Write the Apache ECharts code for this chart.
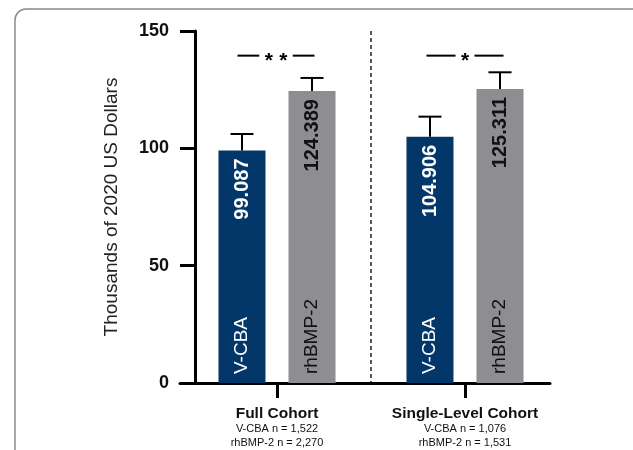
<!DOCTYPE html>
<html>
<head>
<meta charset="utf-8">
<script src="https://cdn.jsdelivr.net/npm/echarts@6/dist/echarts.min.js"></script>
<style>html,body{margin:0;padding:0;background:#fff;}#c{width:633px;height:450px;}</style>
</head>
<body>
<div id="c"></div>
<script>
// ---- data ----
const categories = ['Full Cohort', 'Single-Level Cohort'];
const subLines = [['V-CBA n = 1,522', 'rhBMP-2 n = 2,270'], ['V-CBA n = 1,076', 'rhBMP-2 n = 1,531']];
const seriesNames = ['V-CBA', 'rhBMP-2'];
const vcbaMeans = [99.087, 104.906];
const rhbmpMeans = [124.389, 125.311];
const vcbaUpper = [106.1, 113.5];
const rhbmpUpper = [130.0, 132.4];
const sigLevel = [139.5, 139.5];
const sigMarks = ['**', '*'];
const yTicks = [0, 50, 100, 150];

const FONT = 'Liberation Sans, Arial, sans-serif';
const BLUE = '#043769';
const GRAY = '#8e8e92';
const BAR_W = 47;
const BAR_OFF = 35;

const chart = echarts.init(document.getElementById('c'), null, {renderer: 'canvas'});

function errorSeries(name, means, upper, sign, textColor) {
  return {
    type: 'custom',
    name: name + ' err',
    xAxisIndex: 0, yAxisIndex: 0,
    z: 5,
    data: categories.map((c, i) => [c, means[i], upper[i]]),
    encode: {x: 0, y: [1, 2]},
    renderItem: function (params, api) {
      const cat = api.value(0);
      const top = api.coord([cat, api.value(1)]);
      const up = api.coord([cat, api.value(2)]);
      const base = api.coord([cat, 0]);
      const x = top[0] + sign * BAR_OFF;
      const ls = {stroke: '#000', lineWidth: 2};
      return {
        type: 'group',
        children: [
          {type: 'line', shape: {x1: x, y1: top[1], x2: x, y2: up[1]}, style: ls},
          {type: 'line', shape: {x1: x - 11.5, y1: up[1], x2: x + 11.5, y2: up[1]}, style: ls},
          {type: 'text', x: x, y: base[1] - 9, rotation: Math.PI / 2,
           style: {text: name, fill: textColor, font: 'normal 19px ' + FONT, align: 'left', verticalAlign: 'middle'}}
        ]
      };
    }
  };
}

const option = {
  animation: false,
  backgroundColor: '#fff',
  graphic: [{
    type: 'rect', shape: {x: 15, y: 9, width: 640, height: 460, r: 11},
    style: {fill: 'none', stroke: '#8a8a8a', lineWidth: 1.5}, z: -10
  }],
  grid: [
    {left: 183, right: 74, top: 31, bottom: 67, containLabel: false},
    {left: 180, right: 83, top: 31, bottom: 67, containLabel: false}
  ],
  xAxis: [{
    type: 'category', gridIndex: 0, data: categories,
    axisLine: {show: false},
    axisTick: {show: true, alignWithLabel: true, length: 15, lineStyle: {color: '#000', width: 3}},
    splitLine: {show: true, showMinLine: false, showMaxLine: false, lineStyle: {color: '#222', width: 1.5, type: [4, 3]}},
    axisLabel: {
      margin: 22,
      formatter: function (v, i) {
        return '{t|' + v + '}\n{s|' + subLines[i][0] + '}\n{s|' + subLines[i][1] + '}';
      },
      rich: {
        t: {fontFamily: FONT, fontWeight: 'bold', fontSize: 15.5, lineHeight: 17, color: '#111'},
        s: {fontFamily: FONT, fontSize: 11, lineHeight: 14, color: '#111'}
      }
    }
  }, {
    type: 'value', gridIndex: 1, min: 0, max: 1,
    axisLine: {show: true, onZero: false, lineStyle: {color: '#000', width: 3}},
    axisTick: {show: false}, axisLabel: {show: false}, splitLine: {show: false}
  }],
  yAxis: [{
    type: 'value', gridIndex: 0, min: 0, max: 150, interval: 50, offset: -12,
    name: 'Thousands of 2020 US Dollars', nameLocation: 'middle', nameGap: 74, nameRotate: 90,
    nameTextStyle: {fontFamily: FONT, fontSize: 19, color: '#222'},
    axisLine: {show: true, onZero: false, lineStyle: {color: '#000', width: 3}},
    axisTick: {show: true, length: 15, lineStyle: {color: '#000', width: 3}},
    axisLabel: {
      margin: 26, fontFamily: FONT, fontWeight: 'bold', fontSize: 18, color: '#111',
      customValues: yTicks
    },
    splitLine: {show: false}
  }, {
    type: 'value', gridIndex: 1, min: 0, max: 1, show: false
  }],
  series: [{
    type: 'bar', name: seriesNames[0], data: vcbaMeans, barWidth: BAR_W, barGap: '49%',
    itemStyle: {color: BLUE},
    label: {show: true, position: 'insideTop', rotate: 90, align: 'right', verticalAlign: 'middle', distance: 8,
      fontFamily: FONT, fontWeight: 'bold', fontSize: 20, color: '#fff',
      formatter: p => p.value.toFixed(3)}
  }, {
    type: 'bar', name: seriesNames[1], data: rhbmpMeans, barWidth: BAR_W,
    itemStyle: {color: GRAY},
    label: {show: true, position: 'insideTop', rotate: 90, align: 'right', verticalAlign: 'middle', distance: 8,
      fontFamily: FONT, fontWeight: 'bold', fontSize: 20, color: '#111',
      formatter: p => p.value.toFixed(3)}
  },
  errorSeries(seriesNames[0], vcbaMeans, vcbaUpper, -1, '#fff'),
  errorSeries(seriesNames[1], rhbmpMeans, rhbmpUpper, 1, '#111'),
  {
    type: 'custom', name: 'significance', xAxisIndex: 0, yAxisIndex: 0, z: 5,
    data: categories.map((c, i) => [c, sigLevel[i], sigMarks[i]]),
    encode: {x: 0, y: 1},
    renderItem: function (params, api) {
      const idx = params.dataIndex;
      const p = api.coord([api.value(0), api.value(1)]);
      const n = sigMarks[idx].length;
      const step = 14.5;
      const cx = p[0] - (n - 1);
      const inner = (n - 1) * step / 2 + 9.5;
      const outer = 38.5;
      const ls = {stroke: '#000', lineWidth: 2};
      const children = [
        {type: 'line', shape: {x1: cx - outer, y1: p[1], x2: cx - inner, y2: p[1]}, style: ls},
        {type: 'line', shape: {x1: cx + inner, y1: p[1], x2: cx + outer, y2: p[1]}, style: ls}
      ];
      for (let k = 0; k < n; k++) {
        children.push({type: 'text', x: cx + (k - (n - 1) / 2) * step, y: p[1] + 6,
          style: {text: '*', fill: '#000', font: 'bold 21px ' + FONT, align: 'center', verticalAlign: 'middle'}});
      }
      return {type: 'group', children: children};
    }
  }]
};
chart.setOption(option);
</script>
</body>
</html>
